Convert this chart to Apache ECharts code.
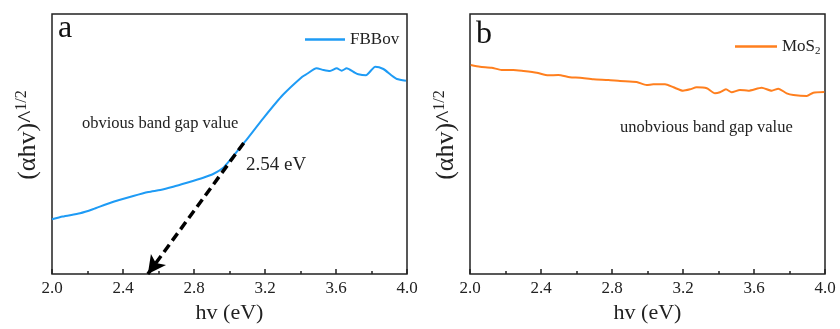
<!DOCTYPE html>
<html>
<head>
<meta charset="utf-8">
<script src="https://cdn.jsdelivr.net/npm/echarts@6/dist/echarts.min.js"></script>
<style>html,body{margin:0;padding:0;background:#fff}#c{width:840px;height:329px}</style>
</head>
<body>
<div id="c"></div>
<script>
// ---- data (y in arbitrary units, 0..260) ----
var xTicks = ['2.0','2.4','2.8','3.2','3.6','4.0'];
var fbbovX = [2.0,2.06,2.158,2.23,2.33,2.458,2.543,2.61,2.683,2.76,2.852,2.908,2.961,3.003,3.087,3.19,3.30,3.41,3.435,3.49,3.53,3.566,3.604,3.632,3.66,3.70,3.726,3.769,3.80,3.82,3.867,3.91,3.943,3.994];
var fbbovY = [54.7,57.5,60.7,64.7,71.3,78,82,84,87.3,91.3,96.3,100,105.7,114,132.3,155.7,179,197.3,200,205.7,204,203,205.7,203.3,205.7,202,199.7,198.7,204,207.3,205,199,195,193.3];
var mos2X = [2.004,2.056,2.122,2.178,2.244,2.30,2.376,2.441,2.497,2.563,2.62,2.695,2.779,2.845,2.939,2.995,3.033,3.099,3.146,3.20,3.24,3.277,3.334,3.38,3.408,3.442,3.474,3.521,3.568,3.643,3.70,3.737,3.784,3.822,3.897,3.934,3.996];
var mos2Y = [209,207.3,206.3,204,204,203,201.3,198.7,199,196.7,196.3,194.7,194,193,192,189,189.7,189.7,186.7,183.3,184.7,186.7,185.7,180.7,181.7,184.7,181.7,184,183.3,186.3,183.3,185.3,180.7,179,178,181.3,182];
var arrowFrom = [3.08, 131];
var arrowTo = [2.54, 0];

function pairs(xs, ys){ return xs.map(function(x,i){return [x, ys[i]];}); }

var FONT = '"Liberation Serif","Times New Roman",serif';
var chart = echarts.init(document.getElementById('c'), null, {renderer:'canvas'});

function xAxis(gi){
  return {
    gridIndex: gi, type:'value', min:2.0, max:4.0, interval:0.4,
    axisLine:{show:false},
    axisTick:{show:true, inside:true, length:5, lineStyle:{color:'#222', width:1.5}},
    minorTick:{show:true, splitNumber:2, length:3, lineStyle:{color:'#222', width:1.5}},
    splitLine:{show:false}, minorSplitLine:{show:false},
    axisLabel:{color:'#222', fontFamily:FONT, fontSize:17, margin:6,
      formatter:function(v){ var s=v.toFixed(1); return xTicks.indexOf(s)>=0 ? s : ''; }},
    name:'hv (eV)', nameLocation:'middle', nameGap:28,
    nameTextStyle:{color:'#222', fontFamily:FONT, fontSize:22}
  };
}
function yAxis(gi){
  return {
    gridIndex: gi, type:'value', min:0, max:260,
    axisLine:{show:false}, axisTick:{show:false}, axisLabel:{show:false}, splitLine:{show:false},
    name:'(αhv)^{sup|1/2}', nameLocation:'middle', nameGap:10,
    nameTextStyle:{color:'#222', fontFamily:FONT, fontSize:26, padding:[0,0,0,18],
      rich:{sup:{fontFamily:FONT, fontSize:16, verticalAlign:'top', padding:[0,0,12,0], color:'#222'}}}
  };
}

chart.setOption({
  animation:false,
  backgroundColor:'#fff',
  grid:[
    {left:52, right:433, top:14, bottom:55, show:true, borderColor:'#222', borderWidth:1.5, backgroundColor:'transparent'},
    {left:470, right:15, top:14, bottom:55, show:true, borderColor:'#222', borderWidth:1.5, backgroundColor:'transparent'}
  ],
  xAxis:[xAxis(0), xAxis(1)],
  yAxis:[yAxis(0), yAxis(1)],
  legend:[
    {data:['FBBov'], left:305, top:31, padding:0, icon:'rect', itemWidth:40, itemHeight:2.5,
     textStyle:{fontFamily:FONT, fontSize:17, color:'#222', padding:[0,0,0,0]}},
    {data:['MoS2'], left:735, top:38, padding:0, icon:'rect', itemWidth:42, itemHeight:2.5,
     formatter:function(n){return 'MoS{sub|2}';},
     textStyle:{fontFamily:FONT, fontSize:17, color:'#222',
       rich:{sub:{fontFamily:FONT, fontSize:11, verticalAlign:'bottom', padding:[9,0,0,0], color:'#222'}}}}
  ],
  series:[
    {name:'FBBov', type:'line', xAxisIndex:0, yAxisIndex:0, data:pairs(fbbovX,fbbovY),
     symbol:'none', smooth:0.2, lineStyle:{color:'#1E9BF5', width:2}, itemStyle:{color:'#1E9BF5'},
     markLine:{silent:true, symbol:['none','arrow'], symbolSize:[14,18],
       lineStyle:{color:'#000', width:3.5, type:[9,5]},
       label:{show:false},
       data:[[{coord:arrowFrom},{coord:arrowTo}]]}},
    {name:'MoS2', type:'line', xAxisIndex:1, yAxisIndex:1, data:pairs(mos2X,mos2Y),
     symbol:'none', smooth:0.2, lineStyle:{color:'#FF7F1E', width:2}, itemStyle:{color:'#FF7F1E'}}
  ],
  graphic:[
    {type:'text', left:58, top:13, style:{text:'a', font:'32px '+FONT, fill:'#111'}},
    {type:'text', left:476, top:19, style:{text:'b', font:'32px '+FONT, fill:'#111'}},
    {type:'text', left:82, top:115, style:{text:'obvious band gap value', font:'16.5px '+FONT, fill:'#222'}},
    {type:'text', left:246, top:156, style:{text:'2.54 eV', font:'19px '+FONT, fill:'#222'}},
    {type:'text', left:620, top:119, style:{text:'unobvious band gap value', font:'16.5px '+FONT, fill:'#222'}}
  ]
});
</script>
</body>
</html>
